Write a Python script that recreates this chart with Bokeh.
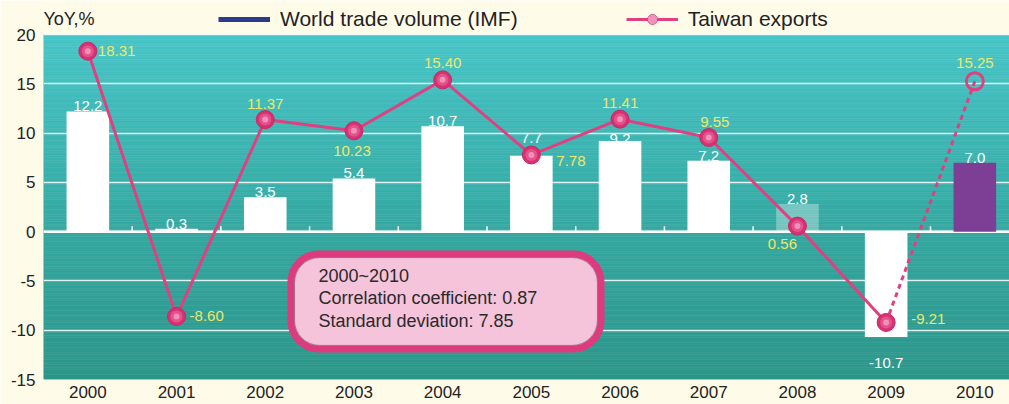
import numpy as np
from bokeh.plotting import figure
from bokeh.models import (Range1d, FixedTicker, ColumnDataSource, Legend, LegendItem,
                          Label, BoxAnnotation, Span)
from bokeh.core.properties import value
from bokeh.embed import file_html
from bokeh.resources import INLINE

# ---------------- data ----------------
years = [2000, 2001, 2002, 2003, 2004, 2005, 2006, 2007, 2008, 2009, 2010]
world_trade = [12.2, 0.3, 3.5, 5.4, 10.7, 7.7, 9.2, 7.2, 2.8, -10.7, 7.0]
taiwan_exports = [18.31, -8.60, 11.37, 10.23, 15.40, 7.78, 11.41, 9.55, 0.56, -9.21, 15.25]
y_ticks = [-15, -10, -5, 0, 5, 10, 15, 20]
legend_labels = ["World trade volume (IMF)", "Taiwan exports"]
y_axis_title = "YoY,%"
box_lines = ["2000~2010", "Correlation coefficient: 0.87", "Standard deviation: 7.85"]

# ---------------- style ----------------
FONT = "Liberation Sans"
CREAM = "#FEFBE8"
PINK = "#E0407F"
YELLOW = "#EDE86A"
TEXT = "#222222"
bar_colors = ["white"] * 8 + ["white", "white", "#7D3F96"]
bar_alphas = [1] * 8 + [0.32, 1, 1]
bar_label_dy = [-5, -5, -5, -5, -5, -18, -2, -5, -5, 26, -5]
tw_dx = [10, 13, 0, -2, 0, 25, 0, 6, -15, 25, 0]
tw_dy = [0, 0, -16, 20, -17, 6, -16, -16, 18, -3, -18]
tw_align = ["left", "left", "center", "center", "center", "left", "center", "center",
            "center", "left", "center"]

W, H = 1009, 404
BORDER_L, BORDER_B = 43, 25
PX_PER_CAT = 88.7
PX_PER_UNIT = 345 / 35.0
FRAME_W = W - BORDER_L
FRAME_H = H - BORDER_B

p = figure(width=W, height=H, output_backend="svg", toolbar_location=None,
           x_range=Range1d(years[0] - 0.5, years[0] - 0.5 + FRAME_W / PX_PER_CAT),
           y_range=Range1d(y_ticks[0], y_ticks[0] + FRAME_H / PX_PER_UNIT),
           min_border_left=BORDER_L, min_border_right=0, min_border_top=0,
           min_border_bottom=BORDER_B,
           border_fill_color=CREAM, background_fill_color=CREAM,
           outline_line_color=None)

# gradient background (bands) over the value area only
def hex2rgb(h):
    h = h.lstrip("#")
    return np.array([int(h[i:i + 2], 16) for i in (0, 2, 4)], dtype=float)

def rgb2hex(c):
    return "#%02x%02x%02x" % tuple(int(round(v)) for v in c)

stops_y = [y_ticks[0], 0, y_ticks[-1]]
stops_c = [hex2rgb("#2D968A"), hex2rgb("#35A8A1"), hex2rgb("#48C5C8")]
edges = np.linspace(y_ticks[0], y_ticks[-1], 141)
mids = (edges[:-1] + edges[1:]) / 2
band_colors = []
for m in mids:
    c = np.array([np.interp(m, stops_y, [s[k] for s in stops_c]) for k in range(3)])
    band_colors.append(rgb2hex(c))
bands = p.quad(left=p.x_range.start, right=p.x_range.end, bottom=edges[:-1], top=edges[1:],
               fill_color=band_colors, line_color=band_colors, line_width=0.6)
bands.level = "image"

# grid
p.xgrid.grid_line_color = None
p.ygrid.ticker = FixedTicker(ticks=y_ticks)
p.ygrid.grid_line_color = "white"
p.ygrid.grid_line_alpha = 0.85
p.ygrid.grid_line_width = 1.5

zero = Span(location=0, dimension="width", line_color="white", line_width=2.5, level="underlay")
p.add_layout(zero)

# small ticks at category boundaries on the zero line
bounds = [y + 0.5 for y in years[:-1]]
p.segment(x0=bounds, y0=[0] * len(bounds), x1=bounds, y1=[0.55] * len(bounds),
          line_color="white", line_width=1.5)

# bars
bar_src = ColumnDataSource(dict(x=years, top=world_trade, color=bar_colors, alpha=bar_alphas,
                                label=["%.1f" % v for v in world_trade], dy=bar_label_dy))
p.vbar(x="x", top="top", width=0.48, fill_color="color", fill_alpha="alpha",
       line_color=None, source=bar_src)
p.text(x="x", y="top", text="label", y_offset="dy", text_align="center",
       text_baseline="alphabetic", text_color="white", text_font=value(FONT),
       text_font_size="15px", source=bar_src)

# Taiwan exports line
tw_line = p.line(years[:-1], taiwan_exports[:-1], line_color=PINK, line_width=3)
p.line(years[-2:], taiwan_exports[-2:], line_color=PINK, line_width=3, line_dash="5 4")
tw_outer = p.scatter(years[:-1], taiwan_exports[:-1], size=18, fill_color="#D83070",
                     line_color="#C42A66", line_width=1)
tw_mid = p.scatter(years[:-1], taiwan_exports[:-1], size=12, fill_color="#E4528C", line_color=None)
tw_inner = p.scatter(years[:-1], taiwan_exports[:-1], size=6, fill_color="#F297BC",
                     line_color=None, fill_alpha=0.9)
p.scatter(years[-1:], taiwan_exports[-1:], size=17, fill_color=None, line_color=PINK,
          line_width=3)

tw_src = ColumnDataSource(dict(x=years, y=taiwan_exports,
                               label=["%.2f" % v for v in taiwan_exports],
                               dx=tw_dx, dy=tw_dy, align=tw_align))
p.text(x="x", y="y", text="label", x_offset="dx", y_offset="dy", text_align="align",
       text_baseline="middle", text_color=YELLOW, text_font=value(FONT),
       text_font_size="15px", source=tw_src)

# axes
for ax in (p.xaxis[0], p.yaxis[0]):
    ax.axis_line_color = None
    ax.major_tick_line_color = None
    ax.minor_tick_line_color = None
    ax.major_tick_out = 0
    ax.major_tick_in = 0
    ax.minor_tick_out = 0
    ax.major_label_text_font = FONT
    ax.major_label_text_color = TEXT
    ax.major_label_text_font_size = "17px"
p.yaxis.ticker = FixedTicker(ticks=y_ticks)
p.yaxis.major_label_overrides = {t: str(t) for t in y_ticks}
p.yaxis.major_label_standoff = 8
p.xaxis.ticker = FixedTicker(ticks=years)
p.xaxis.major_label_overrides = {y: str(y) for y in years}
p.xaxis.major_label_standoff = 6

# y-axis title (inside the frame, above the value area)
p.add_layout(Label(x=years[0] - 0.5, y=y_ticks[-1] + 16 / PX_PER_UNIT, text=y_axis_title,
                   text_baseline="middle", text_align="left", text_font=FONT,
                   text_font_size="18px", text_color=TEXT))

# legend (navy key has no drawn data of its own)
navy_src = ColumnDataSource(dict(x=[np.nan, np.nan], y=[np.nan, np.nan]))
navy = p.line(x="x", y="y", source=navy_src, line_color="#2B3A8C", line_width=5)
legend = Legend(items=[LegendItem(label=legend_labels[0], renderers=[navy]),
                       LegendItem(label=legend_labels[1],
                                  renderers=[tw_line, tw_outer, tw_mid, tw_inner])],
                orientation="horizontal", location=(175, FRAME_H - 31),
                background_fill_alpha=0,
                border_line_color=None, padding=0, margin=0, spacing=108,
                glyph_width=52, glyph_height=24, label_standoff=10,
                label_text_font=FONT, label_text_font_size="21px", label_text_color=TEXT)
p.add_layout(legend)

# annotation box
p.add_layout(BoxAnnotation(left=2002.29, right=2005.785, top=-2.27, bottom=-11.9,
                           fill_color="#F5C3DA", fill_alpha=1, line_color="#DE3A7E",
                           line_width=7, line_alpha=1, border_radius=28))
p.add_layout(BoxAnnotation(left=2002.33, right=2005.745, top=-2.63, bottom=-11.54,
                           fill_alpha=0, line_color="#8E6A80", line_width=1,
                           line_alpha=0.8, border_radius=25))
for i, t in enumerate(box_lines):
    p.add_layout(Label(x=2002.60, y=-4.45 - 2.29 * i, text=t, text_baseline="middle",
                       text_align="left", text_font=FONT, text_font_size="18px",
                       text_color="#2A2A2A"))

open("out.html", "w").write(file_html(p, INLINE))
